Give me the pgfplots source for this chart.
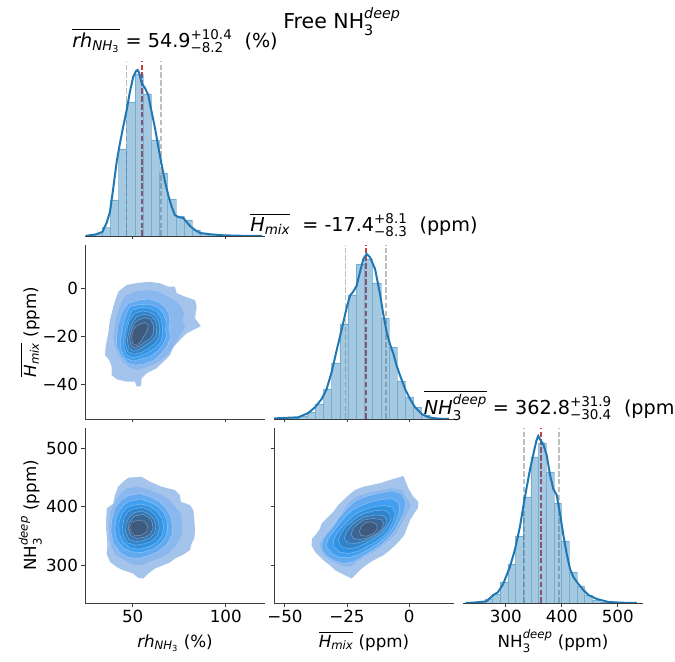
\documentclass[border=0pt]{standalone}
\usepackage{amsmath}
\usepackage{fontspec}
\setmainfont{DejaVu Sans}
\usepackage{pgfplots}
\pgfplotsset{compat=1.18}

\definecolor{kdeblue}{RGB}{31,119,180}
\definecolor{medred}{RGB}{200,65,65}
\definecolor{qgray}{RGB}{190,190,190}
\definecolor{spine}{RGB}{60,60,60}
\definecolor{lv1}{RGB}{164,196,236}
\definecolor{lv2}{RGB}{138,183,238}
\definecolor{lv3}{RGB}{100,170,240}
\definecolor{lv4}{RGB}{66,158,238}
\definecolor{lv5}{RGB}{50,146,226}
\definecolor{lv6}{RGB}{47,132,204}
\definecolor{lv7}{RGB}{52,117,178}
\definecolor{lv8}{RGB}{58,102,150}
\definecolor{lv9}{RGB}{62,90,124}

\newcommand{\ti}[1]{\text{\itshape #1}}
\newcommand{\tu}[1]{\text{#1}}
\newcommand{\fs}[1]{\fontsize{#1bp}{#1bp}\selectfont}

\tikzset{
  qline/.style={line width=1.5bp, dash pattern=on 5.5bp off 2.4bp},
  kde/.style={kdeblue, line width=2bp},
  bars/.style={ybar interval, fill=kdeblue, fill opacity=0.4, draw=kdeblue, draw opacity=0.35, line width=0.5bp},
  lvA/.style={draw=none},
  lvB/.style={draw=white, draw opacity=0.35, line width=0.5bp},
}

\pgfplotsset{
  corner/.style={scale only axis, width=180bp, clip=true,
    tick align=outside, major tick length=3.5bp,
    every tick/.style={spine, line width=0.9bp},
    axis line style={spine, line width=0.9bp},
    ticklabel style={font=\fs{16.7}},
    label style={font=\fs{16.7}},
    xlabel style={at={(axis description cs:0.5,0)}, anchor=base, yshift=-44bp},
    ylabel style={at={(axis description cs:-0.272,0.5)}, anchor=base},
    title style={at={(axis description cs:0.5,1)}, anchor=base, yshift=8bp, font=\fs{19.2}},
  },
  diag/.style={axis x line*=bottom, axis y line=none, corner, ymin=0},
  off/.style={axis x line*=bottom, axis y line*=left, corner},
}

\begin{document}
\begin{tikzpicture}

% ---------- row 1: relative humidity marginal ----------
\begin{axis}[diag, at={(85bp,426bp)}, anchor=south west, height=175bp,
  xmin=24.4, xmax=121.1, ymax=175, xtick={50,100}, xticklabels={},
  title={$\overline{\ti{rh}_{\ti{NH}_{\tu{3}}}}$ = 54.9$^{\tu{+10.4}}_{\tu{−8.2}}$\ \ (\%)}]
\addplot[qgray, qline] coordinates {(46.7,0) (46.7,175)};
\addplot[qgray, qline] coordinates {(65.3,0) (65.3,175)};
\addplot[medred, qline] coordinates {(54.9,0) (54.9,175)};
\addplot[bars] coordinates {(24.8,0.5) (29.2,1.5) (33.6,8.3) (38.0,36) (42.4,87) (46.8,134) (51.2,162) (55.6,142) (60.0,96) (64.4,63) (68.8,37) (73.2,20) (77.6,16) (82.0,6) (86.4,3) (90.8,1.5) (95.2,0.8) (99.6,0.5) (104.0,0.3) (108.4,0.2) (112.8,0.1) (117.2,0.1) (121.6,0)};
\addplot[kde] coordinates {(25.0,0.3) (27.0,0.7) (30.0,1.5) (33.7,4) (36.0,13) (37.8,24) (39.6,48) (41.4,74) (43.2,93) (44.9,109) (46.8,126) (48.5,144) (50.3,159) (51.8,165) (52.7,166) (53.5,163) (54.8,153) (56.6,148) (58.4,141) (60.2,124) (62.0,108) (63.8,89) (65.6,71) (67.4,54) (69.1,41) (71.0,29) (72.7,21) (74.5,19) (77.2,18) (79.0,14) (80.8,10) (83.5,6) (86.2,3) (91.6,1.7) (98.7,0.7) (106,0.3) (113.1,0.1) (119.6,0)};
\end{axis}

% ---------- row 2, column 1: rh vs H_mix density ----------
\begin{axis}[off, at={(85bp,243bp)}, anchor=south west, height=174bp,
  xmin=24.4, xmax=121.1, ymin=-54.3, ymax=18.0,
  xtick={50,100}, xticklabels={}, ytick={-40,-20,0}, yticklabels={−40,−20,0},
  ylabel={$\overline{\ti{H}_{\ti{mix}}}$ (ppm)}]
\addplot[fill=lv1, lvA] coordinates {(42.3,-1.4) (46.8,1.4) (53.0,2.3) (59.3,2.7) (64.7,2.1) (69.1,0.7) (72.7,0.7) (73.7,-2.1) (79.0,-3.7) (83.5,-4.9) (84.4,-7.6) (83.5,-12.5) (86.6,-15.7) (84.4,-16.6) (79.0,-18.7) (75.4,-21.5) (71.8,-24.3) (70.1,-27.7) (66.5,-30.5) (62.9,-33.2) (57.5,-35.3) (54.8,-37.4) (54.5,-40.6) (52.2,-40.9) (51.2,-38.8) (46.8,-38.8) (41.4,-37.8) (38.7,-36.0) (38.7,-32.6) (37.4,-29.8) (35.1,-27.7) (35.6,-23.6) (36.9,-18.7) (37.8,-13.2) (39.6,-7.6) (41.0,-4.2)} -- cycle;
\addplot[fill=lv2, lvA] coordinates {(46.7,-2.8) (52.1,-1.1) (58.4,-0.7) (63.7,-1.4) (68.2,-3.1) (72.7,-5.3) (75.9,-7.6) (77.7,-10.4) (76.8,-13.2) (78.1,-15.9) (75.9,-19.1) (73.6,-22.2) (71.3,-25.2) (68.2,-28.0) (64.6,-30.2) (60.2,-31.9) (56.6,-33.0) (52.6,-33.9) (48.5,-33.0) (44.9,-30.8) (42.2,-27.7) (40.5,-23.8) (39.7,-20.1) (40.5,-15.9) (41.3,-11.8) (43.1,-7.6) (44.9,-4.4)} -- cycle;
\addplot[fill=lv3, lvB] coordinates {(47.6,-6.2) (53.0,-4.9) (58.4,-4.4) (63.8,-5.6) (67.3,-7.6) (69.5,-10.4) (70.0,-13.9) (69.5,-17.3) (70.6,-20.1) (68.8,-23.6) (65.5,-27.0) (61.1,-30.2) (56.6,-31.3) (52.1,-31.9) (47.3,-31.2) (43.7,-28.4) (41.5,-24.3) (41.3,-20.1) (42.2,-15.3) (43.7,-11.1) (45.8,-8.0)} -- cycle;
\addplot[fill=lv4, lvB] coordinates {(48.5,-7.6) (53.9,-6.7) (59.3,-6.7) (63.8,-8.0) (66.4,-10.4) (67.9,-13.9) (67.7,-17.3) (68.2,-20.1) (66.4,-23.3) (63.4,-26.1) (59.3,-28.4) (54.8,-29.4) (50.3,-30.2) (45.8,-29.1) (43.7,-25.2) (43.7,-20.8) (44.6,-16.6) (45.8,-12.5) (47.1,-9.7)} -- cycle;
\addplot[fill=lv5, lvB] coordinates {(49.8,-9.0) (54.8,-8.0) (59.3,-8.3) (62.9,-9.7) (65.2,-12.2) (65.9,-15.3) (66.1,-18.7) (65.2,-22.2) (62.3,-24.7) (58.4,-26.6) (54.4,-28.0) (50.3,-28.8) (46.7,-27.7) (44.9,-23.8) (45.5,-19.4) (46.7,-15.3) (48.2,-11.8)} -- cycle;
\addplot[fill=lv6, lvB] coordinates {(50.9,-10.4) (55.3,-9.4) (59.3,-10.0) (62.3,-11.4) (64.1,-13.9) (64.6,-16.9) (64.1,-20.5) (62.0,-22.9) (58.4,-25.0) (54.8,-26.6) (50.9,-27.4) (47.3,-26.3) (45.8,-22.2) (46.7,-18.0) (48.0,-13.9)} -- cycle;
\addplot[fill=lv7, lvB] coordinates {(52.1,-11.8) (56.2,-10.8) (59.8,-11.4) (62.0,-13.2) (63.0,-15.9) (62.7,-19.4) (60.5,-21.8) (56.9,-23.6) (53.9,-25.2) (50.9,-26.1) (48.0,-24.9) (47.1,-21.5) (48.2,-17.7) (49.8,-14.3)} -- cycle;
\addplot[fill=lv8, lvB] coordinates {(53.0,-13.2) (56.6,-12.2) (59.6,-12.9) (61.1,-15.2) (61.2,-18.3) (59.6,-20.8) (56.6,-22.2) (53.9,-23.8) (51.6,-24.9) (49.1,-23.8) (48.3,-20.8) (49.4,-17.3) (50.9,-14.6)} -- cycle;
\addplot[fill=lv9, lvB] coordinates {(53.0,-15.3) (56.6,-14.1) (58.4,-15.3) (57.8,-17.7) (56.2,-19.7) (54.4,-22.2) (52.1,-23.8) (50.0,-22.9) (49.4,-20.1) (50.3,-17.3) (51.6,-15.9)} -- cycle;
\end{axis}

% ---------- row 2, column 2: H_mix marginal ----------
\begin{axis}[diag, at={(274bp,243bp)}, anchor=south west, height=174bp,
  xmin=-54.4, xmax=18.1, ymax=174, xtick={-50,-25,0}, xticklabels={},
  title={$\overline{\ti{H}_{\ti{mix}}}$\ \ = -17.4$^{\tu{+8.1}}_{\tu{−8.3}}$\ \ (ppm)}]
\addplot[qgray, qline] coordinates {(-25.7,0) (-25.7,174)};
\addplot[qgray, qline] coordinates {(-9.3,0) (-9.3,174)};
\addplot[medred, qline] coordinates {(-17.4,0) (-17.4,174)};
\addplot[bars] coordinates {(-51.0,0.4) (-47.7,1) (-44.4,3) (-41.1,7) (-37.8,15) (-34.5,30) (-31.2,56) (-27.9,95) (-24.6,124) (-21.3,155) (-18.0,160) (-14.7,136) (-11.4,101) (-8.1,72) (-4.8,38) (-1.5,22) (1.8,12) (5.1,4) (8.4,1) (11.7,0.3) (15.0,0)};
\addplot[kde] coordinates {(-54.4,0.4) (-53.4,0.7) (-44.6,1.7) (-40.6,6) (-37.9,11.7) (-35.2,20) (-33.2,30) (-31.2,46.7) (-29.2,68.3) (-27.1,90) (-25.1,111.7) (-23.8,123.3) (-22.5,127.3) (-21.1,133.3) (-19.8,146.7) (-18.4,160) (-17.1,165) (-15.7,161.7) (-13.7,150) (-11.7,125) (-10.4,105) (-9.0,86.7) (-7.7,75) (-6.3,65) (-5.0,53.3) (-3.6,43.3) (-1.6,30) (0.4,20) (2.4,11.7) (5.1,5) (7.8,1.7) (11.8,0.3) (16,0.1)};
\end{axis}

% ---------- row 3, column 1: rh vs NH3 density ----------
\begin{axis}[off, at={(85bp,59bp)}, anchor=south west, height=175bp,
  xmin=24.4, xmax=121.1, ymin=235.3, ymax=534.8,
  xtick={50,100}, xticklabels={50,100}, ytick={300,400,500}, yticklabels={300,400,500},
  xlabel={$\ti{rh}_{\ti{NH}_{\tu{3}}}$ (\%)},
  ylabel={NH$_{\tu{3}}^{\ti{deep}}$ (ppm)}]
\addplot[fill=lv1, lvA] coordinates {(47.6,449.7) (54.8,451.4) (59.3,442.9) (65.5,434.3) (72.7,428.6) (75.4,420.0) (75.9,408.6) (80.8,402.9) (82.6,394.3) (83.1,380.0) (83.5,360.0) (83.1,345.7) (81.7,337.1) (80.8,325.7) (76.6,317.1) (72.7,311.4) (70.0,304.6) (66.4,300.0) (62.0,294.3) (58.4,285.7) (55.7,277.1) (53.0,278.3) (50.3,285.7) (47.6,288.6) (44.9,291.4) (41.3,297.1) (37.8,305.7) (36.0,320.0) (36.5,334.3) (36.2,345.7) (35.8,362.9) (35.8,380.0) (36.1,397.1) (39.6,405.7) (40.5,420.0) (42.2,434.3) (44.9,442.9)} -- cycle;
\addplot[fill=lv2, lvA] coordinates {(46.7,431.4) (53.0,434.3) (59.3,428.6) (65.5,420.0) (70.0,411.4) (72.7,400.0) (75.9,388.6) (76.6,371.4) (76.3,351.4) (73.6,334.3) (69.1,320.0) (64.6,312.6) (59.3,305.7) (54.8,300.0) (50.3,301.1) (45.8,308.6) (40.8,317.1) (38.7,331.4) (37.6,348.6) (37.2,368.6) (37.9,388.6) (40.1,405.7) (43.1,421.2)} -- cycle;
\addplot[fill=lv3, lvB] coordinates {(47.6,418.9) (53.9,422.9) (59.3,417.1) (64.6,408.6) (67.7,398.3) (70.2,385.7) (71.5,368.6) (71.1,351.4) (68.6,336.0) (64.1,324.0) (58.4,316.0) (53.0,311.4) (47.6,313.1) (43.1,321.7) (39.6,337.1) (38.3,357.1) (38.7,377.1) (40.5,397.1) (43.7,411.4)} -- cycle;
\addplot[fill=lv4, lvB] coordinates {(48.5,409.7) (53.9,413.2) (58.7,408.6) (63.4,401.1) (66.6,390.3) (68.4,377.1) (68.8,362.9) (67.7,348.0) (64.8,336.0) (60.2,326.3) (54.8,321.7) (49.4,322.9) (44.9,329.7) (41.5,342.9) (40.5,360.0) (40.8,377.1) (42.6,392.6) (45.5,404.0)} -- cycle;
\addplot[fill=lv5, lvB] coordinates {(49.4,401.7) (54.4,404.6) (59.3,400.6) (63.0,392.6) (65.7,380.0) (66.6,365.7) (65.7,350.3) (63.0,338.9) (58.7,331.4) (53.9,327.4) (48.5,329.7) (44.9,340.0) (42.8,354.3) (42.6,371.4) (44.0,386.9) (46.4,397.1)} -- cycle;
\addplot[fill=lv6, lvB] coordinates {(50.3,396.0) (54.8,398.9) (58.9,394.3) (62.0,385.7) (63.9,374.3) (64.3,361.7) (63.0,349.7) (60.2,341.1) (56.2,336.6) (51.6,334.3) (47.3,338.3) (44.9,351.4) (44.6,367.4) (45.5,381.2) (47.6,391.4)} -- cycle;
\addplot[fill=lv7, lvB] coordinates {(51.2,390.3) (55.1,392.6) (58.4,388.0) (61.1,380.0) (62.5,367.4) (61.8,354.9) (59.3,346.9) (55.7,342.3) (51.6,340.0) (48.0,344.6) (46.2,357.1) (46.5,371.4) (48.2,382.9)} -- cycle;
\addplot[fill=lv8, lvB] coordinates {(51.2,384.6) (55.7,386.9) (58.7,381.7) (60.5,373.2) (60.9,362.9) (59.6,353.7) (56.6,348.0) (52.1,345.7) (49.1,350.3) (47.6,361.7) (48.2,374.3)} -- cycle;
\addplot[fill=lv9, lvB] coordinates {(49.4,374.3) (53.9,377.1) (56.6,374.3) (58.0,367.4) (57.5,357.1) (54.8,351.4) (51.2,350.3) (49.1,357.1) (48.5,365.7)} -- cycle;
\end{axis}

% ---------- row 3, column 2: H_mix vs NH3 density ----------
\begin{axis}[off, at={(274bp,59bp)}, anchor=south west, height=175bp,
  xmin=-54.4, xmax=18.1, ymin=235.3, ymax=534.8,
  xtick={-50,-25,0}, xticklabels={−50,−25,0}, ytick={300,400,500}, yticklabels={},
  xlabel={$\overline{\ti{H}_{\ti{mix}}}$ (ppm)}]
\addplot[fill=lv1, lvA] coordinates {(-21.8,428.6) (-18.4,434.3) (-15.1,437.2) (-11.0,441.2) (-7.0,446.9) (-2.3,452.6) (-1.6,445.8) (-0.3,431.5) (1.7,417.2) (3.8,408.6) (3.5,397.2) (2.1,388.6) (0.4,377.2) (-0.9,362.9) (-1.9,351.5) (-3.6,342.9) (-5.6,334.3) (-7.7,325.7) (-10.3,317.2) (-13.0,311.4) (-16.4,302.9) (-19.1,294.3) (-21.1,285.7) (-23.1,277.2) (-25.1,281.2) (-27.2,285.7) (-29.8,291.4) (-31.9,300.0) (-34.5,308.6) (-36.6,317.2) (-37.9,322.9) (-39.3,334.3) (-39.0,345.7) (-37.2,354.3) (-35.9,362.9) (-35.2,371.5) (-32.5,382.9) (-30.5,391.5) (-28.5,402.9) (-26.5,411.5) (-23.8,421.8)} -- cycle;
\addplot[fill=lv2, lvA] coordinates {(-21.1,417.2) (-16.4,424.0) (-11.7,427.5) (-7.0,431.5) (-3.0,428.6) (-0.9,414.3) (0.8,402.9) (-0.9,388.6) (-2.7,374.3) (-4.0,362.9) (-5.9,351.5) (-8.3,341.7) (-11.3,331.4) (-14.4,322.9) (-17.7,315.4) (-21.1,305.7) (-23.8,297.2) (-27.2,300.0) (-30.5,305.7) (-33.2,313.2) (-35.2,322.9) (-35.9,336.0) (-34.5,348.6) (-31.9,360.0) (-29.8,371.5) (-27.2,388.6) (-24.5,405.7)} -- cycle;
\addplot[fill=lv3, lvB] coordinates {(-20.4,412.6) (-16.1,419.5) (-11.3,424.0) (-6.7,427.5) (-3.2,422.9) (-1.3,408.6) (-1.9,391.5) (-3.6,376.0) (-5.4,361.2) (-7.7,348.6) (-10.8,336.0) (-14.4,325.7) (-18.4,315.4) (-22.4,305.7) (-26.5,302.9) (-30.1,307.4) (-33.2,315.5) (-35.2,326.9) (-34.9,341.7) (-33.2,353.2) (-30.9,364.6) (-28.5,380.0) (-25.1,397.2) (-22.9,405.7)} -- cycle;
\addplot[fill=lv4, lvB] coordinates {(-19.8,401.2) (-15.3,408.6) (-10.8,412.6) (-6.7,413.7) (-4.3,406.9) (-3.8,393.2) (-5.0,377.2) (-6.7,362.9) (-9.0,349.7) (-12.1,338.3) (-15.7,328.6) (-19.8,318.9) (-23.8,313.2) (-27.8,313.2) (-31.2,320.0) (-33.2,331.4) (-32.8,344.0) (-30.9,355.5) (-28.5,368.6) (-25.5,384.0) (-22.9,394.3)} -- cycle;
\addplot[fill=lv5, lvB] coordinates {(-18.4,394.3) (-14.4,400.0) (-10.0,402.3) (-6.7,398.9) (-5.6,388.6) (-6.5,374.3) (-8.1,361.2) (-10.3,349.7) (-13.4,340.0) (-17.1,331.4) (-20.7,323.5) (-24.5,320.0) (-27.8,322.3) (-30.1,330.3) (-30.5,341.7) (-29.2,353.2) (-27.2,364.6) (-24.7,376.0) (-21.8,386.9)} -- cycle;
\addplot[fill=lv6, lvB] coordinates {(-18.0,388.6) (-14.0,393.2) (-10.2,394.3) (-7.8,388.6) (-7.5,377.2) (-8.9,365.7) (-11.0,354.3) (-14.0,345.7) (-17.5,337.2) (-21.1,330.3) (-24.7,328.0) (-27.4,332.6) (-28.5,342.9) (-27.4,354.3) (-25.5,366.9) (-23.1,374.3) (-20.7,382.9)} -- cycle;
\addplot[fill=lv7, lvB] coordinates {(-17.5,382.9) (-13.7,385.7) (-10.4,385.2) (-8.9,377.2) (-9.7,365.7) (-11.7,355.5) (-14.8,347.5) (-18.0,341.2) (-21.8,337.2) (-24.7,338.3) (-26.1,345.7) (-25.1,357.2) (-23.1,368.6) (-20.4,377.2)} -- cycle;
\addplot[fill=lv8, lvB] coordinates {(-18.4,377.2) (-14.4,380.0) (-11.3,378.3) (-10.2,371.5) (-11.0,361.2) (-13.4,353.2) (-16.4,346.9) (-19.8,344.0) (-22.4,345.7) (-23.4,353.2) (-22.4,362.9) (-20.7,370.3)} -- cycle;
\addplot[fill=lv9, lvB] coordinates {(-17.7,372.6) (-15.1,374.3) (-13.0,369.7) (-12.9,361.2) (-14.4,354.3) (-17.1,349.7) (-19.4,350.9) (-20.0,357.2) (-19.4,365.7)} -- cycle;
\end{axis}

% ---------- row 3, column 3: NH3 marginal ----------
\begin{axis}[diag, at={(463bp,59bp)}, anchor=south west, height=175bp,
  xmin=223.5, xmax=545, ymax=175, xtick={300,400,500}, xticklabels={300,400,500},
  xlabel={NH$_{\tu{3}}^{\ti{deep}}$ (ppm)},
  title={$\overline{\ti{NH}_{\tu{3}}^{\ti{deep}}}$ = 362.8$^{\tu{+31.9}}_{\tu{−30.4}}$\ \ (ppm)}]
\addplot[qgray, qline] coordinates {(332.4,0) (332.4,175)};
\addplot[qgray, qline] coordinates {(394.7,0) (394.7,175)};
\addplot[medred, qline] coordinates {(362.8,0) (362.8,175)};
\addplot[bars] coordinates {(235.0,0.5) (248.7,1.5) (262.4,4) (276.1,9) (289.8,21) (303.5,39) (317.2,67) (330.9,106) (344.6,146) (358.3,160) (372.0,131) (385.7,100) (399.4,62) (413.1,31) (426.8,17) (440.5,8) (454.2,3) (467.9,1) (481.6,0.5) (495.3,0.2) (509.0,0.1) (522.7,0)};
\addplot[kde] coordinates {(228,0.1) (235.5,0.2) (250,0.7) (265.4,1.7) (277.2,7.7) (286.2,11) (295.2,19) (307.2,36) (316.1,53) (325.1,76) (334.1,106) (343.0,133) (352.0,156) (355.0,163) (357.9,167) (362.7,162) (366.8,159) (372.9,148) (378.9,128) (384.8,114) (390.9,108) (396.8,89) (402.7,68) (408.8,49) (414.7,34) (420.6,26) (429.6,19) (438.5,13) (447.5,8) (462.5,4) (483.3,1) (507.3,0.3) (534.2,0)};
\end{axis}

% figure title
\node[anchor=base, font=\fs{20.5}] at (342bp,633bp) {Free NH$_{\tu{3}}^{\ti{deep}}$};

\pgfresetboundingbox
\useasboundingbox (0,0) rectangle (675bp,662bp);
\end{tikzpicture}
\end{document}
